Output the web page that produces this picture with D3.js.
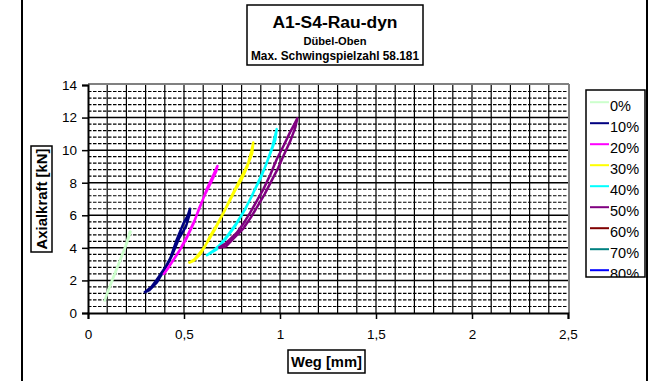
<!DOCTYPE html>
<html><head><meta charset="utf-8">
<script src="https://cdn.jsdelivr.net/npm/d3@7"></script>
<style>body{margin:0;background:#fff}svg{display:block;font-family:Arial,"Liberation Sans",sans-serif}</style>
</head><body><svg id="c" width="655" height="381"></svg>
<script>
// ---- data ----
const seriesNames = ["0%","10%","20%","30%","40%","50%","60%","70%","80%"];
const xTicks = [0,0.5,1,1.5,2,2.5];
const xTickLabels = ["0","0,5","1","1,5","2","2,5"];
const yTicks = [0,2,4,6,8,10,12,14];
const weg0   = [0.085,0.11,0.14,0.17,0.20,0.222,0.218,0.195,0.165,0.135,0.105,0.085];
const kraft0 = [0.7,1.5,2.4,3.3,4.2,5.0,5.0,4.1,3.2,2.3,1.4,0.7];
const weg10   = [0.292,0.33,0.358,0.385,0.406,0.43,0.462,0.497,0.52,0.531,0.53,0.51,0.475,0.44,0.415,0.39,0.36,0.32,0.292];
const kraft10 = [1.25,1.6,2.04,2.5,2.86,3.4,4.5,5.5,6.0,6.4,6.1,5.3,4.6,3.6,3.0,2.5,1.9,1.4,1.25];
const weg20   = [0.392,0.43,0.479,0.52,0.557,0.59,0.618,0.65,0.674,0.668,0.64,0.61,0.578,0.55,0.51,0.47,0.42,0.392];
const kraft20 = [2.34,3.0,3.89,4.8,5.74,6.7,7.59,8.4,9.03,8.7,8.0,7.3,6.4,5.5,4.5,3.7,2.8,2.34];
const weg30   = [0.523,0.55,0.583,0.61,0.635,0.67,0.705,0.74,0.774,0.81,0.835,0.85,0.861,0.855,0.83,0.8,0.765,0.73,0.695,0.66,0.625,0.59,0.555,0.523];
const kraft30 = [3.07,3.2,3.58,4.1,4.71,5.4,6.15,7.0,7.79,8.6,9.23,9.9,10.47,9.8,9.0,8.2,7.5,6.7,5.9,5.1,4.4,3.8,3.3,3.07];
const weg40   = [0.615,0.65,0.6875,0.73,0.774,0.82,0.861,0.9,0.931,0.96,0.983,0.975,0.95,0.92,0.885,0.85,0.81,0.765,0.72,0.67,0.615];
const kraft40 = [3.52,3.8,4.19,4.8,5.53,6.4,7.38,8.3,9.23,10.2,11.29,10.6,9.8,8.9,8.0,7.1,6.2,5.3,4.6,3.9,3.52];
const weg50   = [0.679,0.72,0.774,0.81,0.844,0.88,0.913,0.95,0.983,1.02,1.052,1.075,1.09,1.08,1.055,1.02,0.99,0.955,0.92,0.885,0.85,0.81,0.76,0.72,0.679];
const kraft50 = [3.99,4.3,4.92,5.5,6.15,6.9,7.59,8.5,9.44,10.3,11.09,11.6,11.95,11.4,10.6,9.7,8.9,8.1,7.3,6.6,5.9,5.2,4.6,4.1,3.99];
const weg60 = [], kraft60 = [];
const weg70 = [], kraft70 = [];
const weg80 = [], kraft80 = [];
const seriesWeg   = [weg0,weg10,weg20,weg30,weg40,weg50,weg60,weg70,weg80];
const seriesKraft = [kraft0,kraft10,kraft20,kraft30,kraft40,kraft50,kraft60,kraft70,kraft80];
const colors = ["#ccffcc","#000080","#ff00ff","#ffff00","#00ffff","#800080","#800000","#008080","#0000ff"];

// ---- layout ----
const svg = d3.select("#c");
const L=88, R=568, T=85, B=313;
const x = d3.scaleLinear().domain([0,2.5]).range([L,R]);
const y = d3.scaleLinear().domain([0,14]).range([B,T]);

// outer frame lines
svg.append("line").attr("x1",22).attr("x2",22).attr("y1",0).attr("y2",381).attr("stroke","#000").attr("stroke-width",2);
svg.append("line").attr("x1",647).attr("x2",647).attr("y1",0).attr("y2",381).attr("stroke","#000").attr("stroke-width",2);

// grid
const g = svg.append("g");
d3.range(1,25).forEach(i=>{
  const v=i/10;
  g.append("line").attr("x1",x(v)).attr("x2",x(v)).attr("y1",T).attr("y2",B).attr("stroke","#000").attr("stroke-width",1.2);
});
d3.range(1,35).forEach(i=>{
  const v=i*0.4;
  const major = Math.abs(v/2-Math.round(v/2))<1e-6;
  g.append("line").attr("x1",L).attr("x2",R).attr("y1",y(v)).attr("y2",y(v))
   .attr("stroke","#000").attr("stroke-width",major?1.5:1.2)
   .attr("stroke-dasharray",major?null:"3.5,1.5");
});
// plot border top/right gray
svg.append("line").attr("x1",L).attr("x2",R+1).attr("y1",T-1).attr("y2",T-1).attr("stroke","#808080").attr("stroke-width",2);
svg.append("line").attr("x1",R+1).attr("x2",R+1).attr("y1",T-1).attr("y2",B).attr("stroke","#808080").attr("stroke-width",2);

// axes
const xAxis = d3.axisBottom(x).tickValues(xTicks).tickFormat((d,i)=>xTickLabels[i]).tickSize(6).tickPadding(10);
const yAxis = d3.axisLeft(y).tickValues(yTicks).tickSize(6).tickPadding(5);
const xa = svg.append("g").attr("transform",`translate(0,${B})`).call(xAxis);
const ya = svg.append("g").attr("transform",`translate(${L},0)`).call(yAxis);
[xa,ya].forEach(a=>{
  a.select(".domain").attr("stroke","#000").attr("stroke-width",2);
  a.selectAll(".tick line").attr("stroke","#000").attr("stroke-width",1.5);
  a.selectAll("text").attr("fill","#000").style("font-size","13.5px").style("font-family","Arial,'Liberation Sans',sans-serif");
});

// series
const line = d3.line().x(d=>x(d[0])).y(d=>y(d[1]));
seriesNames.forEach((n,i)=>{
  const pts = seriesWeg[i].map((w,j)=>[w,seriesKraft[i][j]]);
  if(!pts.length) return;
  svg.append("path").attr("d",line(pts)).attr("fill","none").attr("stroke",colors[i])
    .attr("stroke-width",2.5).attr("stroke-linejoin","round");
});

// title box
svg.append("rect").attr("x",247).attr("y",5).attr("width",176).attr("height",60).attr("fill","#fff").attr("stroke","#000").attr("stroke-width",1.5);
const tt = (txt,yy,fs,len)=>svg.append("text").attr("x",335).attr("y",yy).attr("text-anchor","middle")
  .attr("font-weight","bold").style("font-size",fs+"px").attr("textLength",len).attr("lengthAdjust","spacingAndGlyphs").text(txt);
tt("A1-S4-Rau-dyn",28,16,125);
tt("Dübel-Oben",45,11,63);
tt("Max. Schwingspielzahl 58.181",60,12,168);

// axis titles
svg.append("rect").attr("x",288).attr("y",350).attr("width",77).attr("height",23).attr("fill","#fff").attr("stroke","#000").attr("stroke-width",1.5);
svg.append("text").attr("x",326.5).attr("y",367).attr("text-anchor","middle").attr("font-weight","bold")
  .style("font-size","14px").attr("textLength",71).attr("lengthAdjust","spacingAndGlyphs").text("Weg [mm]");
svg.append("rect").attr("x",31).attr("y",146).attr("width",21).attr("height",106).attr("fill","#fff").attr("stroke","#000").attr("stroke-width",1.5);
svg.append("text").attr("transform","translate(47,199) rotate(-90)").attr("text-anchor","middle").attr("font-weight","bold")
  .style("font-size","14px").attr("textLength",101).attr("lengthAdjust","spacingAndGlyphs").text("Axialkraft [kN]");

// legend
const lg = svg.append("g");
svg.append("clipPath").attr("id","lgclip").append("rect").attr("x",586).attr("y",90).attr("width",59).attr("height",187);
lg.append("rect").attr("x",586).attr("y",90).attr("width",59).attr("height",187).attr("fill","#fff");
const items = lg.append("g").attr("clip-path","url(#lgclip)");
seriesNames.forEach((n,i)=>{
  const by = 110.7 + i*21;
  items.append("line").attr("x1",590).attr("x2",609).attr("y1",by-8.5).attr("y2",by-8.5).attr("stroke",colors[i]).attr("stroke-width",2);
  items.append("text").attr("x",610).attr("y",by).style("font-size","14.5px").attr("fill","#000").text(n);
});
lg.append("rect").attr("x",586).attr("y",90).attr("width",59).attr("height",187).attr("fill","none").attr("stroke","#000").attr("stroke-width",1.5);
</script></body></html>
